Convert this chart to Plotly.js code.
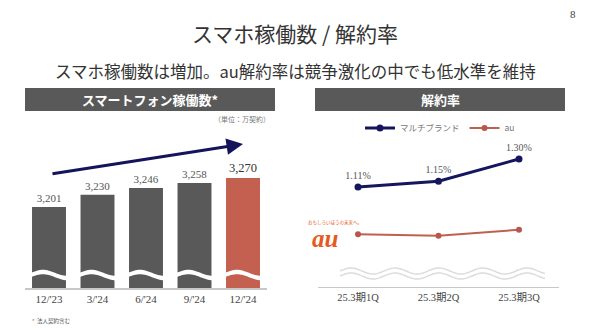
<!DOCTYPE html>
<html>
<head>
<meta charset="utf-8">
<script src="https://cdn.plot.ly/plotly-3.0.1.min.js"></script>
<style>html,body{margin:0;padding:0;background:#fff;}#chart{width:590px;height:332px;}</style>
</head>
<body>
<div id="chart"></div>
<script>
// ---- data ----
const barCats = ["12/'23", "3/'24", "6/'24", "9/'24", "12/'24"];
const barValues = [3201, 3230, 3246, 3258, 3270];
const barColors = ["#595959", "#595959", "#595959", "#595959", "#c4604f"];
const quarterCats = ["25.3期1Q", "25.3期2Q", "25.3期3Q"];
const multiBrand = [1.11, 1.15, 1.30];
const auRate = [0.79, 0.78, 0.82];
const seriesNames = ["マルチブランド", "au"];

// ---- helpers (pixel -> paper) ----
const W = 590, H = 332;
const px = x => x / W;
const py = y => 1 - y / H;

const serif = "Liberation Serif, Noto Sans CJK JP, serif";
const jp = "Noto Sans CJK JP, sans-serif";

// wave break on bars (decoration)
function barWavePath(left, right) {
  const w = right - left;
  const n = 24;
  let top = [], bot = [];
  for (let i = 0; i <= n; i++) {
    const t = i / n;
    const x = left + t * w;
    const c = 275 - 3 * Math.sin(1.5 * Math.PI * t);
    top.push([x, c - 2.2]);
    bot.push([x, c + 2.2]);
  }
  const pts = top.concat(bot.reverse());
  return 'M ' + pts.map(p => px(p[0]).toFixed(5) + ',' + py(p[1]).toFixed(5)).join(' L ') + ' Z';
}
function lineWavePath(x0, x1, yc, amp, period) {
  const n = 120;
  let pts = [];
  for (let i = 0; i <= n; i++) {
    const x = x0 + (x1 - x0) * i / n;
    const y = yc - amp * Math.sin(2 * Math.PI * (x - x0) / period);
    pts.push(px(x).toFixed(5) + ',' + py(y).toFixed(5));
  }
  return 'M ' + pts.join(' L ');
}

const shapes = [
  {type: 'rect', xref: 'paper', yref: 'paper', x0: px(25), x1: px(275), y0: py(111), y1: py(88), fillcolor: '#595959', line: {width: 0}, layer: 'below'},
  {type: 'rect', xref: 'paper', yref: 'paper', x0: px(315), x1: px(565), y0: py(111), y1: py(88), fillcolor: '#595959', line: {width: 0}, layer: 'below'}
];
const leftStart = 24.75, slot = 48.5, bw = 34;
for (let i = 0; i < barCats.length; i++) {
  const c = leftStart + slot * (i + 0.5);
  shapes.push({type: 'path', xref: 'paper', yref: 'paper', path: barWavePath(c - bw / 2 - 1, c + bw / 2 + 1), fillcolor: '#ffffff', line: {width: 0}, layer: 'above'});
}
shapes.push({type: 'path', xref: 'paper', yref: 'paper', path: lineWavePath(340, 545, 271, 3, 44), line: {color: '#dcdcdc', width: 1.5}});
shapes.push({type: 'path', xref: 'paper', yref: 'paper', path: lineWavePath(340, 545, 276, 3, 44), line: {color: '#dcdcdc', width: 1.5}});

const traces = [
  {
    type: 'bar', x: barCats, y: barValues, xaxis: 'x', yaxis: 'y',
    marker: {color: barColors},
    texttemplate: '%{y:,}', textposition: 'outside', cliponaxis: false,
    textfont: {family: serif, size: [11, 11, 11, 11, 12.5], color: ['#555', '#555', '#555', '#555', '#333']},
    showlegend: false, hoverinfo: 'skip'
  },
  {
    type: 'scatter', mode: 'lines+markers+text', x: quarterCats, y: multiBrand, xaxis: 'x2', yaxis: 'y2',
    name: seriesNames[0],
    line: {color: '#161660', width: 3}, marker: {color: '#161660', size: 7},
    texttemplate: '%{y:.2f}%', textposition: 'top center', cliponaxis: false,
    textfont: {family: serif, size: 10, color: '#555'}
  },
  {
    type: 'scatter', mode: 'lines+markers', x: quarterCats, y: auRate, xaxis: 'x2', yaxis: 'y2',
    name: seriesNames[1],
    line: {color: '#c0604f', width: 2}, marker: {color: '#b8584c', size: 6}
  }
];

const A = (text, x, y, font, xanchor) => ({text: text, x: px(x), y: py(y), xref: 'paper', yref: 'paper', xanchor: xanchor || 'center', yanchor: 'middle', showarrow: false, font: font});

const annotations = [
  A('スマホ稼働数 / 解約率', 295, 33, {family: jp, size: 21, color: '#333'}),
  A('8', 573, 14, {family: serif, size: 11, color: '#444'}),
  A('スマホ稼働数は増加。au解約率は競争激化の中でも低水準を維持', 295, 71, {family: jp, size: 16.5, color: '#333'}),
  A('<b>スマートフォン稼働数*</b>', 150, 99.5, {family: jp, size: 13, color: '#fff'}),
  A('<b>解約率</b>', 440, 99.5, {family: jp, size: 13, color: '#fff'}),
  A('（単位：万契約）', 272, 119, {family: jp, size: 7, color: '#777'}, 'right'),
  A('*  法人契約含む', 30, 321, {family: jp, size: 5.5, color: '#555'}, 'left'),
  {text: '', x: px(243), y: py(144), xref: 'paper', yref: 'paper', axref: 'pixel', ayref: 'pixel', ax: -192, ay: 30, showarrow: true, arrowhead: 2, arrowsize: 1.1, arrowwidth: 3, arrowcolor: '#14145a'},
  A('<b><i>au</i></b>', 325, 238, {family: 'Liberation Serif, serif', size: 25, color: '#e65a1e'}),
  A('おもしろいほうの未来へ。', 306, 222, {family: jp, size: 4.5, color: '#e65a1e'}, 'left')
];

const layout = {
  width: W, height: H,
  margin: {l: 0, r: 0, t: 0, b: 0},
  paper_bgcolor: '#fff', plot_bgcolor: 'rgba(0,0,0,0)',
  bargap: 0.3,
  xaxis: {
    domain: [px(24.75), px(267.25)], anchor: 'y', type: 'category',
    showline: true, linecolor: '#c8c8c8', linewidth: 1.5, showgrid: false, zeroline: false, ticks: '',
    tickfont: {family: serif, size: 11, color: '#444'}, fixedrange: true
  },
  yaxis: {
    domain: [py(288), py(130)], anchor: 'x', range: [3008.3, 3384.2],
    visible: false, showgrid: false, zeroline: false, fixedrange: true
  },
  xaxis2: {
    domain: [px(317.75), px(559.25)], anchor: 'y2', type: 'category', range: [-0.5, 2.5],
    showline: true, linecolor: '#c8c8c8', linewidth: 1.2, showgrid: false, zeroline: false, ticks: '',
    tickfont: {family: serif, size: 10.5, color: '#444'}, fixedrange: true
  },
  yaxis2: {
    domain: [py(287), py(140)], anchor: 'x2', range: [0.432, 1.429],
    visible: false, showgrid: false, zeroline: false, fixedrange: true
  },
  showlegend: true,
  legend: {
    orientation: 'h', x: px(440), xanchor: 'center', y: py(128), yanchor: 'middle',
    font: {family: jp, size: 8.5, color: '#777'}, itemwidth: 30,
    tracegroupgap: 0, bgcolor: 'rgba(0,0,0,0)'
  },
  shapes: shapes,
  annotations: annotations
};

Plotly.newPlot('chart', traces, layout, {displayModeBar: false, staticPlot: true});
</script>
</body>
</html>
